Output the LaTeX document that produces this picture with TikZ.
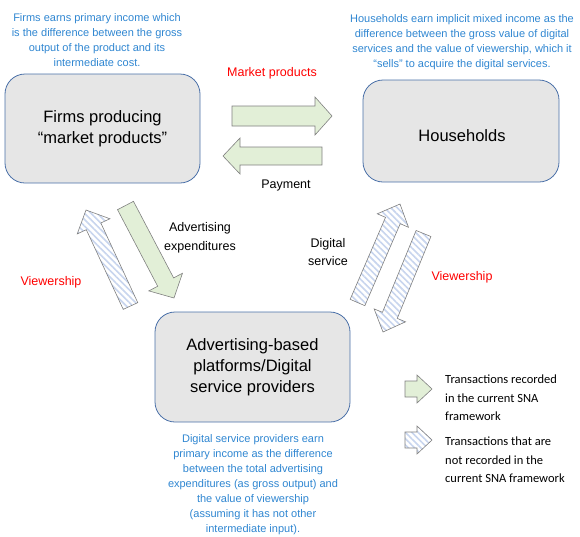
\documentclass[tikz,border=0pt]{standalone}
\usepackage{fontspec}
\setmainfont{Liberation Sans}
\newfontfamily\legendfont{Carlito}
\usetikzlibrary{calc, patterns.meta}
\definecolor{boxfill}{HTML}{E6E6E6}
\definecolor{boxline}{HTML}{4A70A8}
\definecolor{noteblue}{HTML}{2F86D1}
\definecolor{recgreen}{HTML}{E4F1DA}
\definecolor{recdots}{HTML}{CFE4BF}
\definecolor{notrecblue}{HTML}{C8D5EE}
\definecolor{labelred}{HTML}{FF0000}
\tikzset{
    sector/.style={rectangle, rounded corners=20pt, draw=boxline, line width=0.8pt, fill=boxfill, align=center, font=\fontsize{16.5}{21}\selectfont},
    note/.style={align=center, text=noteblue, font=\fontsize{11}{15}\selectfont},
    flowlabel/.style={align=center, font=\fontsize{12.5}{18.5}\selectfont},
    redlabel/.style={flowlabel, text=labelred},
    legendtext/.style={anchor=west, align=left, inner sep=0pt, font=\legendfont\fontsize{12.5}{18.5}\selectfont},
    recorded/.style={draw=black!50, line width=0.6pt, preaction={fill=recgreen}, pattern={Dots[distance=2pt, radius=0.35pt]}, pattern color=recdots},
    notrecorded/.style={draw=black!50, line width=0.6pt, preaction={fill=white}, pattern={Lines[angle=-45, distance=4.5pt, line width=1.6pt]}, pattern color=notrecblue}
}
% block arrow: style, tail, tip, half shaft, half head, head length
\newcommand{\fatarrow}[6]{%
    \coordinate (fa-base) at ($(#3)!#6!(#2)$);
    \path[#1] ($(#2)!#4!-90:(#3)$) -- ($(fa-base)!#4!-90:(#3)$) -- ($(fa-base)!#5!-90:(#3)$)
        -- (#3) -- ($(fa-base)!#5!90:(#3)$) -- ($(fa-base)!#4!90:(#3)$) -- ($(#2)!#4!90:(#3)$) -- cycle;}

\begin{document}
\begin{tikzpicture}[x=1pt, y=-1pt]
    \useasboundingbox (0,0) rectangle (580,536);

    % the three sectors
    \node[sector, minimum width=195pt, minimum height=109pt] (firms) at (102.5,128.5) {Firms producing\\“market products”};
    \node[sector, minimum width=196pt, minimum height=102pt] (hh) at (461,131) {};
    \node[font=\fontsize{16.5}{21}\selectfont] (hhtext) at (462,136) {Households};
    \node[sector, minimum width=195pt, minimum height=110pt] (platf) at (252.5,367) {Advertising-based\\platforms/Digital\\service providers};

    % income notes
    \node[note] (firmsnote) at (97,40) {Firms earns primary income which\\is the difference between the gross\\output of the product and its\\intermediate cost.};
    \node[note] (hhnote) at (462,42.5) {Households earn implicit mixed income as the\\difference between the gross value of digital\\services and the value of viewership, which it\\“sells” to acquire the digital services.};
    \node[note] (platfnote) at (253,485) {Digital service providers earn\\primary income as the difference\\between the total advertising\\expenditures (as gross output) and\\the value of viewership\\(assuming it has not other\\intermediate input).};

    % flow end points
    \coordinate (mp-tail) at (232,116);   \coordinate (mp-tip) at (332,116);
    \coordinate (pay-tail) at (322,156);  \coordinate (pay-tip) at (223,156);
    \coordinate (adx-tail) at (125.5,205.5); \coordinate (adx-tip) at (174,298);
    \coordinate (vwl-tail) at (130.5,306); \coordinate (vwl-tip) at (86,210);
    \coordinate (dig-tail) at (357.5,302.5); \coordinate (dig-tip) at (400,204);
    \coordinate (vwr-tail) at (423.5,233.5); \coordinate (vwr-tip) at (383,332);

    \fatarrow{recorded}{mp-tail}{mp-tip}{10pt}{19pt}{17pt}
    \fatarrow{recorded}{pay-tail}{pay-tip}{9pt}{18pt}{17pt}
    \fatarrow{recorded}{adx-tail}{adx-tip}{9pt}{19pt}{18pt}
    \fatarrow{notrecorded}{vwl-tail}{vwl-tip}{8pt}{18pt}{18pt}
    \fatarrow{notrecorded}{dig-tail}{dig-tip}{8pt}{17pt}{18pt}
    \fatarrow{notrecorded}{vwr-tail}{vwr-tip}{8pt}{17pt}{18pt}

    % flow labels
    \node[redlabel] (mplab) at (272,73) {Market products};
    \node[flowlabel] (paylab) at (286,185) {Payment};
    \node[flowlabel] (adxlab) at (200,238) {Advertising\\expenditures};
    \node[redlabel] (vwllab) at (51,282) {Viewership};
    \node[flowlabel] (diglab) at (328,252) {Digital\\service};
    \node[redlabel] (vwrlab) at (462,277) {Viewership};

    % legend
    \coordinate (lg1-tail) at (405,389); \coordinate (lg1-tip) at (432,389);
    \coordinate (lg2-tail) at (405,440); \coordinate (lg2-tip) at (432,440);
    \fatarrow{recorded}{lg1-tail}{lg1-tip}{8pt}{14pt}{15pt}
    \fatarrow{notrecorded}{lg2-tail}{lg2-tip}{8pt}{14pt}{15pt}
    \node[legendtext] (lg1text) at (445,398) {Transactions recorded\\in the current SNA\\framework};
    \node[legendtext] (lg2text) at (445,460) {Transactions that are\\not recorded in the\\current SNA framework};
\end{tikzpicture}
\end{document}
